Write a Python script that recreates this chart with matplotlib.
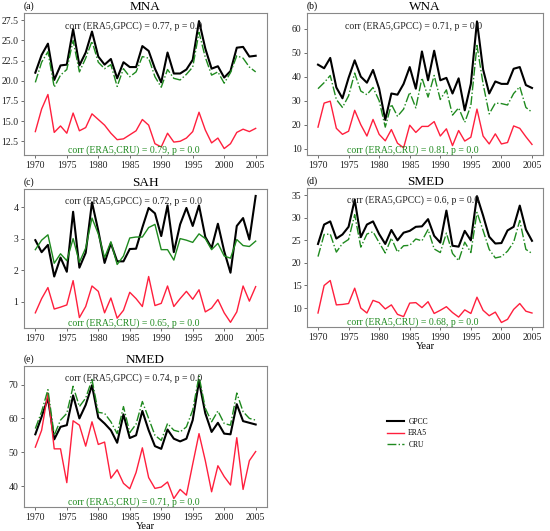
import numpy as np
import matplotlib
matplotlib.use("Agg")
import matplotlib.pyplot as plt

plt.rcParams['font.family'] = ['Liberation Serif', 'DejaVu Serif']

years = np.arange(1970, 2006)

# MNA
mna_gpcc = [21.0, 23.2, 24.6, 20.1, 21.9, 22.0, 26.4, 21.9, 23.5, 26.1, 23.0, 22.0, 22.7, 20.3, 22.3, 21.7, 21.7, 24.3,
            23.7, 21.5, 19.8, 23.5, 20.9, 20.9, 21.4, 22.6, 27.4, 24.0, 21.5, 21.8, 20.4, 21.2, 24.1, 24.2, 23.0, 23.1]
mna_cru = [19.8, 22.3, 23.6, 19.2, 20.7, 21.4, 25.0, 21.1, 22.8, 24.9, 22.3, 21.5, 22.0, 19.3, 21.5, 20.5, 21.1, 23.0,
           22.8, 20.5, 19.2, 21.4, 20.3, 20.1, 20.8, 21.7, 26.0, 22.9, 20.7, 21.1, 19.7, 21.0, 23.1, 22.8, 21.7, 21.1]
mna_era5 = [13.7, 16.5, 18.3, 13.6, 14.4, 13.5, 16.0, 13.8, 14.2, 15.9, 15.2, 14.5, 13.5, 12.7, 12.8, 13.3, 13.8, 15.2,
            14.5, 12.2, 11.8, 13.5, 12.4, 12.5, 12.9, 13.7, 16.1, 13.9, 12.3, 12.9, 11.6, 12.2, 13.6, 14.0, 13.7, 14.1]

# WNA
wna_gpcc = [45, 43.5, 47.8, 35.5, 31, 39.5, 46.8, 40, 37.5, 42.8, 35, 22, 33, 32.5, 37, 44, 35, 50.5,
            38.5, 50.8, 38.5, 39.5, 33, 39.3, 26, 37, 63, 43, 33, 38, 37, 37, 43.3, 44, 36.5, 35.3]
wna_cru = [35, 37.5, 40.5, 30.5, 27.2, 32, 41.5, 34, 32.5, 35.5, 30, 19, 28.5, 23.5, 26.5, 33.5, 27, 39.5,
           31.5, 40.5, 30.5, 34.5, 24, 27, 21, 28, 53, 37, 24.5, 29, 28.8, 28.2, 33, 35.8, 27.2, 25.2]
wna_era5 = [19, 29, 29.8, 18.5, 16, 17.3, 26, 20, 15.3, 22.2, 16, 13.3, 18, 12.3, 10.4, 19.8, 16.8, 19.3,
            19.3, 21.3, 15.3, 18.3, 11.3, 17.6, 13.2, 14.8, 26.5, 15.3, 12, 16.2, 12, 12.6, 19.5, 18.5, 15, 11.8]

# SAH
sah_gpcc = [2.95, 2.57, 2.8, 1.8, 2.4, 1.95, 3.85, 2.08, 2.55, 4.15, 3.25, 2.23, 2.85, 2.28, 2.28, 2.67, 2.68, 3.35,
            3.97, 3.8, 3.08, 4.05, 2.57, 3.45, 3.97, 3.4, 4.05, 3.05, 2.7, 3.47, 2.6, 1.92, 3.4, 3.65, 2.97, 4.35]
sah_cru = [2.65, 2.95, 3.12, 2.22, 2.52, 2.3, 3.0, 2.25, 2.7, 3.65, 3.15, 2.4, 2.9, 2.18, 2.45, 3.02, 3.05, 3.05,
           3.35, 3.45, 2.65, 2.65, 2.32, 3.0, 2.95, 2.88, 3.15, 3.0, 2.65, 2.85, 2.45, 2.38, 2.97, 2.78, 2.75, 2.92]
sah_era5 = [0.65, 1.1, 1.45, 0.77, 0.83, 0.9, 1.67, 0.5, 0.85, 1.5, 1.33, 0.65, 1.12, 0.48, 0.73, 1.3, 1.1, 0.85,
            1.8, 0.88, 0.95, 1.5, 0.85, 1.1, 1.33, 1.08, 1.38, 0.68, 0.8, 1.07, 0.65, 0.35, 0.68, 1.5, 1.02, 1.48]

# SMED
smed_gpcc = [24.2, 28.5, 29.2, 25.4, 26.3, 28.0, 34.0, 25.7, 28.5, 29.2, 26.4, 24.2, 27.3, 25.0, 26.7, 27.1, 28.0, 28.1,
             29.7, 26.0, 24.5, 31.6, 23.8, 23.6, 27.1, 25.0, 34.8, 30.5, 25.8, 24.3, 24.4, 27.2, 28.0, 32.7, 27.4, 24.9]
smed_cru = [21.4, 26.3, 26.4, 22.4, 24.3, 25.2, 30.7, 23.5, 26.4, 26.9, 24.5, 22.2, 25.5, 22.4, 23.8, 23.9, 25.3, 24.9,
            27.4, 23.1, 22.3, 26.6, 22.1, 20.5, 24.6, 22.3, 31.2, 27.2, 23.0, 21.1, 21.4, 22.6, 24.6, 29.4, 23.0, 22.1]
smed_era5 = [8.9, 15.0, 16.1, 10.7, 10.8, 11.0, 14.4, 10.0, 8.9, 11.7, 11.2, 9.8, 10.7, 8.6, 8.1, 11.1, 11.2, 10.1,
             11.4, 8.8, 9.5, 10.3, 9.0, 8.0, 9.6, 8.8, 12.4, 9.5, 8.3, 9.1, 6.8, 7.5, 9.7, 11.0, 9.3, 8.9]

# NMED
nmed_gpcc = [55.3, 60.5, 66.0, 53.8, 57.5, 58.0, 66.8, 60.0, 64.0, 69.8, 60.2, 58.5, 56.5, 52.8, 61.2, 54.2, 55.0, 62.2,
             56.5, 51.8, 51.0, 56.7, 54.0, 53.2, 54.0, 59.5, 71.0, 61.5, 56.0, 58.7, 55.5, 55.3, 64.2, 59.2, 58.7, 58.2]
nmed_cru = [57.0, 62.0, 68.5, 55.0, 59.5, 61.5, 69.5, 63.5, 66.0, 71.5, 61.8, 61.5, 59.0, 55.5, 63.5, 55.8, 58.3, 65.0,
            60.0, 55.0, 53.5, 58.5, 56.5, 56.0, 57.5, 62.5, 72.5, 63.0, 59.0, 62.2, 58.5, 58.0, 67.5, 62.0, 60.0, 59.5]
nmed_era5 = [51.5, 56.5, 67.5, 51.0, 51.0, 41.0, 59.3, 58.0, 51.8, 59.0, 52.3, 53.0, 42.3, 44.8, 40.8, 39.2, 44.0, 51.3,
             42.5, 39.3, 39.7, 41.2, 36.3, 39.0, 37.3, 46.5, 55.5, 47.5, 38.3, 46.0, 42.8, 40.3, 54.3, 39.0, 47.5, 50.2]

panels = [
    ("(a)", "MNA", mna_gpcc, mna_era5, mna_cru, 0.77, 0.79, (10.8, 28.4), [12.5, 15.0, 17.5, 20.0, 22.5, 25.0, 27.5], "-."),
    ("(b)", "WNA", wna_gpcc, wna_era5, wna_cru, 0.71, 0.81, (7.4, 66.5), [10, 20, 30, 40, 50, 60], "-."),
    ("(c)", "SAH", sah_gpcc, sah_era5, sah_cru, 0.72, 0.65, (0.17, 4.57), [1, 2, 3, 4], "-"),
    ("(d)", "SMED", smed_gpcc, smed_era5, smed_cru, 0.6, 0.68, (5.8, 36.6), [10, 15, 20, 25, 30, 35], "-."),
    ("(e)", "NMED", nmed_gpcc, nmed_era5, nmed_cru, 0.74, 0.71, (33.8, 75.5), [40, 50, 60, 70], "-."),
]

# axes boxes in pixels: left, top, right, bottom
boxes = [(24, 13, 267, 155), (307, 13, 543, 155),
         (24, 189, 267, 328), (307, 188, 543, 327),
         (24, 366, 267, 507)]

W, H = 550, 531
fig = plt.figure(figsize=(5.5, 5.31), dpi=100)

red = "#ff1f3d"
green = "#1f8a1f"
axes = []
for (lab, name, g, e, c, r1, r2, ylim, yt, cls), (l, t, r, b) in zip(panels, boxes):
    ax = fig.add_axes([l / W, 1 - b / H, (r - l) / W, (b - t) / H])
    ax.plot(years, g, color="black", lw=1.5, label="GPCC")
    ax.plot(years, e, color=red, lw=1.0, label="ERA5")
    ax.plot(years, c, color=green, lw=1.0, ls=cls, label="CRU")
    ax.set_ylim(*ylim)
    ax.set_yticks(yt)
    if name == "MNA":
        ax.set_yticklabels(["%.1f" % v for v in yt])
    ax.set_xlim(1968.2, 2006.8)
    ax.set_xticks(range(1970, 2006, 5))
    ax.tick_params(labelsize=7, length=2.5, width=0.6, pad=1.5, color="#555555", labelcolor="#222222")
    for s in ax.spines.values():
        s.set_color("#888888")
        s.set_linewidth(0.8)
    ax.set_title(name, fontsize=9.5, pad=1)
    ax.text(0.0, 1.015, lab, transform=ax.transAxes, fontsize=7, va="bottom")
    ax.text(0.45, 0.91, "corr (ERA5,GPCC) = %s, p = 0.0" % r1, transform=ax.transAxes,
            fontsize=7, color="#222222", ha="center", va="center")
    ax.text(0.45, 0.035, "corr (ERA5,CRU) = %s, p = 0.0" % r2, transform=ax.transAxes,
            fontsize=7, color=green, ha="center", va="center")
    axes.append(ax)

axes[3].set_xlabel("Year", fontsize=7.5, labelpad=0)
axes[4].set_xlabel("Year", fontsize=7.5, labelpad=0)

handles, labels = axes[0].get_legend_handles_labels()
fig.legend(handles, labels, loc="upper left", bbox_to_anchor=(380 / W, 1 - 411 / H),
           frameon=False, fontsize=5.5, handlelength=2.2, handletextpad=0.6, labelspacing=0.45)

fig.savefig("out.png", dpi=100)
